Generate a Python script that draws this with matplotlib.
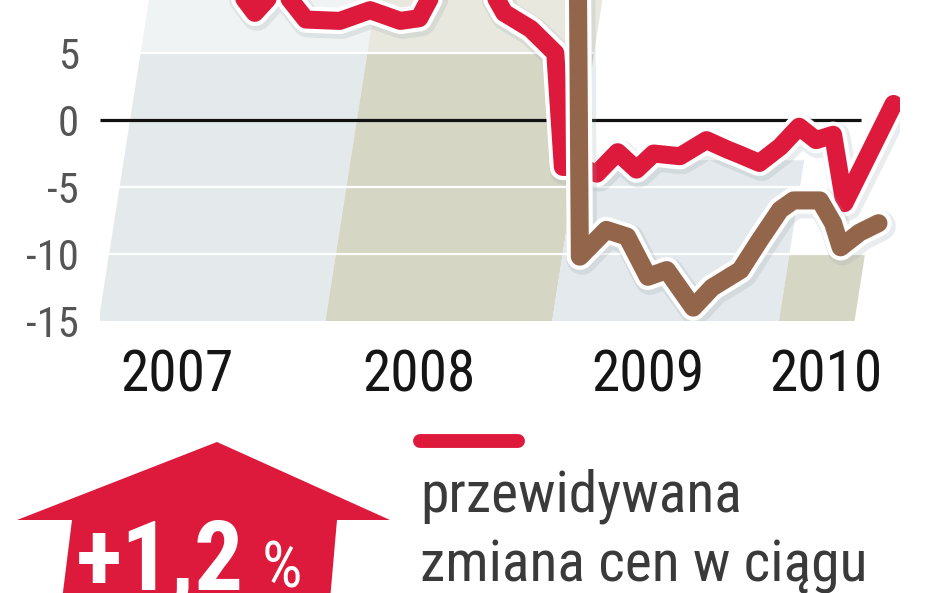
import matplotlib
matplotlib.use("Agg")
import matplotlib.pyplot as plt
from matplotlib.patches import Polygon
from matplotlib.lines import Line2D
import matplotlib.patheffects as pe
from matplotlib import font_manager

# ---------------- data ----------------
years = ["2007", "2008", "2009", "2010"]
year_label_x = [2.5, 15.3, 27.4, 36.8]          # months since Jan 2007
band_edges = [0, 12, 24, 36, 40]                 # months since Jan 2007
band_tops = [9.0, 9.0, -3.0, -10.0]
band_colors = ["#e4eaec", "#d6d6c4", "#e3e9ec", "#d6d6c4"]

red_x = [5.0, 6.6, 7.9, 9.3, 11.1, 12.7, 14.3, 15.3, 16.4, 18.8, 19.8, 21.2,
         22.5, 22.9, 23.8, 24.7, 25.8, 26.8, 27.7, 29.1, 30.5, 31.6, 32.3,
         33.3, 34.4, 35.4, 36.3, 37.2, 37.8, 40.4]
red_y = [11.0, 8.0, 10.0, 7.5, 7.4, 8.2, 7.4, 7.6, 10.5, 10.5, 8.0, 6.8,
         5.0, -3.5, -3.5, -4.0, -2.4, -3.7, -2.5, -2.7, -1.5, -2.2, -2.6,
         -3.2, -2.0, -0.5, -1.5, -1.1, -6.2, 1.2]

brown_x = [23.6, 23.8, 25.2, 26.3, 27.4, 28.4, 29.8, 30.8, 32.3, 33.3, 34.4,
           35.1, 36.5, 37.2, 37.6, 38.6, 39.6]
brown_y = [30.0, -10.2, -8.2, -8.7, -11.7, -11.2, -14.0, -12.5, -11.2, -9.0,
           -6.7, -6.0, -6.0, -7.7, -9.5, -8.4, -7.7]

y_ticks = [5, 0, -5, -10, -15]
y_tick_labels = ["5", "0", "-5", "-10", "-15"]
grid_levels = [5, -5, -10]

legend_lines = ["przewidywana", "zmiana cen w ciągu"]
headline_value = "+1,2"
headline_unit = "%"

# ---------------- style ----------------
RED = "#de1a3c"
BROWN = "#93654a"
W, H = 948, 593

# choose the narrowest available sans family
prefs = ["Liberation Sans Narrow", "Roboto Condensed", "Open Sans Condensed",
         "Noto Sans Condensed", "DejaVu Sans Condensed"]
FAMILY, STRETCH = "Liberation Sans", "normal"
entries = font_manager.fontManager.ttflist
names = {f.name for f in entries}
found = False
for p in prefs:
    if p in names:
        FAMILY, STRETCH, found = p, "normal", True
        break
if not found:
    for base in ["Roboto", "Open Sans", "Noto Sans", "DejaVu Sans", "Lato", "Inter"]:
        for f in entries:
            if f.name == base and str(f.stretch) in ("condensed", "semi-condensed",
                                                      "extra-condensed") and f.style == "normal":
                FAMILY, STRETCH, found = base, str(f.stretch), True
                break
        if found:
            break
plt.rcParams["font.family"] = [FAMILY, "DejaVu Sans"]
plt.rcParams["font.stretch"] = STRETCH

fig = plt.figure(figsize=(W / 100, H / 100), dpi=100)

def fx(px):
    return px / W

def fy(py):
    return 1 - py / H

ax_left, ax_right, ax_top, ax_bottom = 100, 900, 0, 321
ax = fig.add_axes([fx(ax_left), fy(ax_bottom), (ax_right - ax_left) / W,
                   (ax_bottom - ax_top) / H])
ax.set_xlim(-1.59, 40.74)
ax.set_ylim(-15, 8.96)
ax.patch.set_alpha(0)
for s in ax.spines.values():
    s.set_visible(False)

skew = 0.111  # months of horizontal slant per value unit
ybot = -15
for i in range(len(years)):
    x0, x1 = band_edges[i], band_edges[i + 1]
    top = band_tops[i]
    split = min(top, 5)
    lower = [(x0 + skew * ybot, ybot), (x1 + skew * ybot, ybot),
             (x1 + skew * split, split), (x0 + skew * split, split)]
    ax.add_patch(Polygon(lower, closed=True, facecolor=band_colors[i],
                         edgecolor="none", zorder=1))
    if top > 5:
        upper = [(x0 + skew * 5, 5), (x1 + skew * 5, 5),
                 (x1 + skew * top, top), (x0 + skew * top, top)]
        ax.add_patch(Polygon(upper, closed=True, facecolor=band_colors[i],
                             alpha=0.55, edgecolor="none", zorder=1))

for g in grid_levels:
    ax.axhline(g, color="white", lw=1.6, zorder=2)
ax.hlines(0, -1.6, 38.7, color="#111111", lw=2.3, zorder=3)

line_fx = [pe.SimpleLineShadow(offset=(1.5, -2), shadow_color="#8a9ba3", alpha=0.18,
                               linewidth=22),
           pe.Stroke(linewidth=19, foreground="white"), pe.Normal()]
ax.plot(red_x, red_y, color=RED, lw=13, solid_joinstyle="round",
        solid_capstyle="round", zorder=5, path_effects=line_fx)
ax.plot(brown_x, brown_y, color=BROWN, lw=13, solid_joinstyle="round",
        solid_capstyle="round", zorder=6, path_effects=line_fx)

ax.set_yticks(y_ticks)
ax.set_yticklabels(y_tick_labels, fontsize=32, color="#555555")
ax.set_xticks(year_label_x)
ax.set_xticklabels(years, fontsize=44, color="#151515")
ax.tick_params(axis="y", length=0, pad=15)
ax.tick_params(axis="x", length=0, pad=20)

# ---------------- arrow with headline ----------------
arrow_px = [(217, 442), (390, 520), (337, 520), (330, 600), (62, 600),
            (72, 520), (17, 520)]
fig.patches.append(Polygon([(fx(x), fy(y)) for x, y in arrow_px], closed=True,
                           facecolor=RED, edgecolor="none",
                           transform=fig.transFigure, figure=fig))
t_val = fig.text(fx(76), fy(590), headline_value, fontsize=76, fontweight="bold",
                 color="white", ha="left", va="baseline")
t_unit = fig.text(fx(262), fy(587), headline_unit, fontsize=46, color="white",
                  ha="left", va="baseline")

# ---------------- legend ----------------
fig.add_artist(Line2D([fx(420), fx(518)], [fy(441), fy(441)], color=RED, lw=10,
                      solid_capstyle="round", transform=fig.transFigure))
t_l1 = fig.text(fx(420), fy(512), legend_lines[0], fontsize=46, color="#3a3a3a",
                ha="left", va="baseline")
t_l2 = fig.text(fx(420), fy(582), legend_lines[1], fontsize=46, color="#3a3a3a",
                ha="left", va="baseline")

# ---- fit text widths to the reference (pixel widths) ----
fig.canvas.draw()
r = fig.canvas.get_renderer()

def fit(texts, ref_text, target_px):
    w = ref_text.get_window_extent(r).width
    if w > 0:
        scale = min(1.0, target_px / w)
        for t in texts:
            t.set_fontsize(t.get_fontsize() * scale)

fit([t_val], t_val, 168)
fit([t_unit], t_unit, 42)
fit([t_l1, t_l2], t_l2, 446)
xl = ax.get_xticklabels()
fit(xl, xl[0], 113)
yl = ax.get_yticklabels()
fit(yl, yl[3], 53)

fig.savefig("out.png", dpi=100)
